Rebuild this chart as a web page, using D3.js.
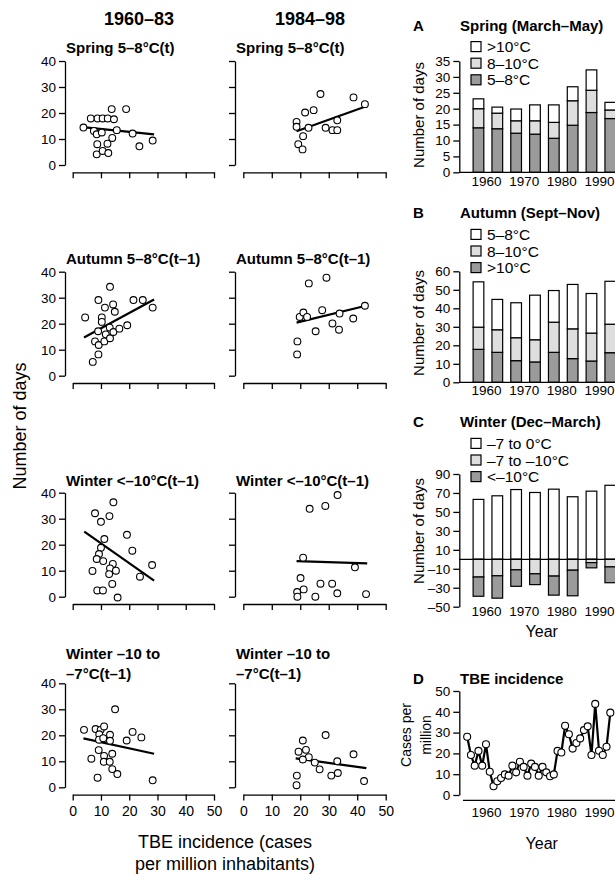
<!DOCTYPE html>
<html>
<head>
<meta charset="utf-8">
<script src="https://cdn.jsdelivr.net/npm/d3@7"></script>
<style>
body { margin: 0; background: #fff; }
text { font-family: "Liberation Sans", Arial, Helvetica, sans-serif; fill: #000; }
.bold { font-weight: bold; }
</style>
</head>
<body>
<svg id="fig" width="615" height="875"></svg>
<script>
// ---- data ----
// scatter panels: [TBE incidence, number of days]
var spring_early = [[3.8,14.4],[6.4,17.9],[7.5,13.1],[8.8,17.9],[8.5,11.8],[8.7,8.0],[8.5,4.1],[10.3,12.5],[10.6,17.9],[10.6,5.4],[12.4,17.9],[12.3,8.2],[12.6,4.6],[13.8,21.5],[14.0,10.4],[14.6,17.6],[15.6,13.4],[18.9,21.5],[21.2,12.1],[23.6,7.2],[28.3,9.4]]
var spring_early_fit = [[4.4,14.5],[28.8,11.8]]
var spring_late = [[18.7,16.6],[18.7,14.7],[19.3,8.0],[20.8,6.0],[21.0,11.1],[21.7,20.2],[22.9,14.3],[24.7,21.1],[27.1,27.3],[28.9,14.3],[31.3,13.4],[33.0,13.4],[33.0,17.2],[38.7,26.0],[42.7,23.4]]
var spring_late_fit = [[18.7,13.0],[42.7,22.4]]

var autumn_early = [[4.4,22.4],[7.1,5.3],[9.1,8.2],[9.1,29.1],[7.9,13.2],[9.2,11.8],[9.0,17.1],[10.3,22.4],[10.3,20.7],[11.4,26.2],[11.2,13.2],[11.7,15.9],[13.1,18.5],[13.2,14.4],[13.2,34.2],[14.4,16.8],[14.3,27.4],[14.9,24.6],[16.5,18.1],[19.3,19.4],[21.5,29.1],[24.8,29.1],[28.3,26.2]]
var autumn_early_fit = [[4.0,14.7],[28.8,29.3]]
var autumn_late = [[18.9,8.2],[19.0,13.2],[19.8,22.6],[21.1,24.3],[22.4,22.6],[23.0,35.5],[25.4,17.1],[27.7,25.2],[29.2,37.7],[31.3,20.1],[33.6,17.7],[33.8,23.9],[38.6,22.0],[42.7,26.9]]
var autumn_late_fit = [[18.7,20.4],[42.7,26.8]]

var wint10_early = [[7.9,32.1],[10.0,28.8],[13.0,31.0],[14.4,36.3],[11.2,22.2],[10.0,18.8],[9.3,16.4],[8.5,14.5],[10.8,13.7],[14.2,12.6],[13.2,10.9],[12.9,8.7],[15.3,10.0],[7.0,9.9],[14.0,4.9],[8.7,2.4],[10.7,2.4],[15.9,-0.3],[19.2,23.8],[21.1,17.7],[23.8,7.7],[28.1,12.2]]
var wint10_early_fit = [[4.1,25.0],[28.8,6.2]]
var wint10_late = [[33.1,39.1],[28.8,34.9],[23.3,33.8],[21.0,15.0],[39.2,11.3],[20.1,7.2],[21.2,2.8],[18.9,1.8],[19.0,0.0],[25.3,0.0],[27.1,5.0],[31.2,5.0],[33.0,1.3],[43.1,1.0]]
var wint10_late_fit = [[18.7,13.7],[43.5,12.8]]

var wint7_early = [[4.0,22.1],[8.1,22.4],[9.9,22.1],[11.1,23.4],[9.4,20.4],[9.3,18.3],[10.8,18.9],[13.2,20.2],[13.2,17.9],[15.0,30.0],[19.1,18.0],[21.2,21.3],[24.3,19.2],[9.2,14.3],[11.1,12.1],[14.0,12.9],[6.6,11.0],[11.0,9.8],[13.1,9.8],[14.0,7.0],[15.8,5.1],[8.8,3.7],[28.3,2.7]]
var wint7_early_fit = [[3.8,18.8],[28.8,12.9]]
var wint7_late = [[20.9,18.0],[22.0,14.4],[19.4,13.7],[23.0,11.6],[20.9,10.7],[25.1,9.5],[26.8,6.9],[28.9,20.1],[30.9,4.5],[33.0,10.0],[33.2,5.5],[38.7,12.7],[42.4,2.4],[18.8,4.5],[18.7,0.8]]
var wint7_late_fit = [[18.4,11.1],[43.2,7.4]]

var scatter_titles = [['Spring 5\u20138\u00b0C(t)'], ['Autumn 5\u20138\u00b0C(t\u20131)'], ['Winter <\u201310\u00b0C(t\u20131)'], ['Winter \u201310 to', '\u20137\u00b0C(t\u20131)']]
var col_titles = ['1960\u201383', '1984\u201398']
var scatter_xticks = [0, 10, 20, 30, 40, 50]
var scatter_yticks = [0, 10, 20, 30, 40]

// five-year periods for the bar panels (centre year)
var periods = ['1956\u201360', '1961\u201365', '1966\u201370', '1971\u201375', '1976\u201380', '1981\u201385', '1986\u201390', '1991\u201395']
var period_mid = [1958, 1963, 1968, 1973, 1978, 1983, 1988, 1993]

var spring_5_8 = [14.0, 13.7, 12.3, 12.0, 10.7, 14.8, 18.8, 16.9]
var spring_8_10 = [6.0, 4.9, 3.9, 4.2, 5.0, 7.7, 7.0, 2.7]
var spring_gt10 = [3.1, 1.9, 3.7, 5.0, 5.5, 4.4, 6.4, 2.4]

var autumn_gt10 = [17.8, 16.2, 11.7, 11.0, 16.2, 12.8, 11.5, 16.0]
var autumn_8_10 = [12.0, 12.2, 12.4, 12.0, 16.3, 16.1, 15.1, 15.4]
var autumn_5_8 = [24.5, 16.4, 18.9, 24.1, 17.1, 24.0, 21.4, 23.2]

var winter_0_7 = [63.2, 67.0, 73.6, 70.5, 74.0, 66.0, 71.9, 78.1]
var winter_7_10 = [18.7, 17.4, 11.1, 15.3, 17.7, 11.5, 3.5, 8.0]
var winter_lt10 = [20.3, 23.6, 17.4, 11.4, 20.1, 27.0, 5.5, 16.7]

var year_ticks = [1960, 1970, 1980, 1990]

// panel D: TBE incidence per year
var tbe_years = [1955,1956,1957,1958,1959,1960,1961,1962,1963,1964,1965,1966,1967,1968,1969,1970,1971,1972,1973,1974,1975,1976,1977,1978,1979,1980,1981,1982,1983,1984,1985,1986,1987,1988,1989,1990,1991,1992,1993]
var tbe_cases = [28.0,19.2,14.1,21.2,14.1,24.4,11.2,4.2,6.6,8.2,9.9,9.3,14.1,10.9,16.0,13.5,9.3,15.1,13.5,9.3,13.5,10.9,9.0,9.9,21.2,20.4,33.3,29.2,22.3,25.0,27.2,31.2,33.0,19.2,43.8,21.3,19.2,23.2,39.6]

// ---- layout ----
var svg = d3.select('#fig')
var dark = '#9b9b9b', light = '#dedede'
var col_x = [[72.7, 214], [243.3, 385.7]]
var col_axis = [65, 235]
var row_top = [61, 271.7, 492.7, 683.3]
var row_h = 104
var title_base = [[53.3], [264.3], [486], [659, 679]]
var minus = function (v) { return String(v).replace('-', '\u2013') }

function styleAxis(sel, size) {
    sel.attr('font-family', null).attr('font-size', size || 13.5)
    sel.selectAll('path, line').attr('stroke', '#000').attr('stroke-width', 1.3)
}

function scatter(pts, fit, row, col) {
    var x = d3.scaleLinear().domain([0, 50]).range(col_x[col])
    var y = d3.scaleLinear().domain([0, 40]).range([row_top[row] + row_h, row_top[row]])
    var g = svg.append('g')

    var ya = g.append('g').attr('transform', 'translate(' + col_axis[col] + ',0)')
        .call(d3.axisLeft(y).tickValues(scatter_yticks).tickSize(6).tickSizeOuter(0)
            .tickFormat(col == 0 ? d3.format('d') : ''))
    styleAxis(ya)
    var xa = g.append('g').attr('transform', 'translate(0,' + (y(0) + 7.3) + ')')
        .call(d3.axisBottom(x).tickValues(scatter_xticks).tickSize(6).tickSizeOuter(0).tickPadding(5)
            .tickFormat(row == 3 ? d3.format('d') : ''))
    styleAxis(xa, 14)

    g.append('path').datum(fit)
        .attr('d', d3.line().x(d => x(d[0])).y(d => y(d[1])))
        .attr('fill', 'none').attr('stroke', '#000').attr('stroke-width', 2.2)

    g.selectAll('circle').data(pts).join('circle')
        .attr('cx', d => x(d[0])).attr('cy', d => y(d[1])).attr('r', 3.4)
        .attr('fill', '#fff').attr('stroke', '#000').attr('stroke-width', 1.1)

    scatter_titles[row].forEach(function (t, i) {
        g.append('text').attr('class', 'bold').attr('x', col_axis[col] + 1).attr('y', title_base[row][i])
            .attr('font-size', 15).text(t)
    })
}

scatter(spring_early, spring_early_fit, 0, 0)
scatter(spring_late, spring_late_fit, 0, 1)
scatter(autumn_early, autumn_early_fit, 1, 0)
scatter(autumn_late, autumn_late_fit, 1, 1)
scatter(wint10_early, wint10_early_fit, 2, 0)
scatter(wint10_late, wint10_late_fit, 2, 1)
scatter(wint7_early, wint7_early_fit, 3, 0)
scatter(wint7_late, wint7_late_fit, 3, 1)

svg.selectAll('.coltitle').data(col_titles).join('text')
    .attr('class', 'bold').attr('x', (d, i) => [104, 275][i]).attr('y', 25)
    .attr('font-size', 18).text(d => d)

svg.append('text').attr('transform', 'translate(26,426) rotate(-90)')
    .attr('text-anchor', 'middle').attr('font-size', 18).text('Number of days')
svg.append('text').attr('x', 225).attr('y', 848).attr('text-anchor', 'middle')
    .attr('font-size', 18).text('TBE incidence (cases')
svg.append('text').attr('x', 225).attr('y', 870).attr('text-anchor', 'middle')
    .attr('font-size', 18).text('per million inhabitants)')

// ---- right-hand bar panels ----
var yr = d3.scaleLinear().domain([1960, 1990]).range([486, 599])
var ax_x = 459.3, bar_w = 10.7, right_edge = 615

function header(letter, title, base) {
    svg.append('text').attr('class', 'bold').attr('x', 413).attr('y', base).attr('font-size', 15).text(letter)
    svg.append('text').attr('class', 'bold').attr('x', 460).attr('y', base).attr('font-size', 15).text(title)
}

function legend(items, top) {
    var lg = svg.append('g').selectAll('g').data(items).join('g')
        .attr('transform', (d, i) => 'translate(471,' + (top + i * 16.6) + ')')
    lg.append('rect').attr('x', 0).attr('y', -5).attr('width', 10).attr('height', 10)
        .attr('fill', d => d[1]).attr('stroke', '#000').attr('stroke-width', 1.2)
    lg.append('text').attr('x', 16).attr('y', 5.5).attr('font-size', 15.5).text(d => d[0])
}

function bars(series, fills, y, offset) {
    var rows = periods.map(function (p, i) {
        var o = { mid: period_mid[i] }
        series.forEach(function (s, k) { o['k' + k] = s[i] })
        return o
    })
    var st = d3.stack().keys(series.map((s, k) => 'k' + k))
    if (offset) st.offset(offset)
    var layers = st(rows)
    svg.append('g').selectAll('g').data(layers).join('g')
        .attr('fill', (d, i) => fills[i])
        .selectAll('rect').data(d => d).join('rect')
        .attr('x', d => yr(d.data.mid) - bar_w / 2)
        .attr('y', d => y(Math.max(d[0], d[1])))
        .attr('width', bar_w)
        .attr('height', d => Math.abs(y(d[0]) - y(d[1])))
        .attr('stroke', '#000').attr('stroke-width', 1.2)
}

function yAxis(y, ticks, labelY) {
    var a = svg.append('g').attr('transform', 'translate(' + ax_x + ',0)')
        .call(d3.axisLeft(y).tickValues(ticks).tickSize(6).tickSizeOuter(0).tickFormat(minus))
    styleAxis(a)
}

function yearAxis(yPos, pad) {
    var a = svg.append('g').attr('transform', 'translate(0,' + yPos + ')')
        .call(d3.axisBottom(yr).tickValues(year_ticks).tickSize(0).tickPadding(pad).tickFormat(d3.format('d')))
    a.select('.domain').remove()
    styleAxis(a)
}

function baseLine(yPos) {
    svg.append('line').attr('x1', ax_x).attr('x2', right_edge).attr('y1', yPos).attr('y2', yPos)
        .attr('stroke', '#000').attr('stroke-width', 1.3)
}

function sideLabel(lines, x0, cy, size) {
    lines.forEach(function (t, i) {
        svg.append('text').attr('transform', 'translate(' + (x0 + i * 20) + ',' + cy + ') rotate(-90)')
            .attr('text-anchor', 'middle').attr('font-size', size).text(t)
    })
}

// A
var yA = d3.scaleLinear().domain([0, 35]).range([172.3, 61])
header('A', 'Spring (March\u2013May)', 30.7)
bars([spring_5_8, spring_8_10, spring_gt10], [dark, light, '#fff'], yA)
yAxis(yA, [0, 5, 10, 15, 20, 25, 30, 35])
baseLine(yA(0))
yearAxis(yA(0), 3.8)
legend([['>10\u00b0C', '#fff'], ['8\u201310\u00b0C', light], ['5\u20138\u00b0C', dark]], 46.6)
sideLabel(['Number of days'], 424, 115, 15)

// B
var yB = d3.scaleLinear().domain([0, 60]).range([382.3, 271.3])
header('B', 'Autumn (Sept\u2013Nov)', 217.7)
bars([autumn_gt10, autumn_8_10, autumn_5_8], [dark, light, '#fff'], yB)
yAxis(yB, [0, 10, 20, 30, 40, 50, 60])
baseLine(yB(0))
yearAxis(yB(0), 3.1)
legend([['5\u20138\u00b0C', '#fff'], ['8\u201310\u00b0C', light], ['>10\u00b0C', dark]], 234.4)
sideLabel(['Number of days'], 424, 323, 15)

// C
var yC = d3.scaleLinear().domain([-50, 90]).range([606.7, 474])
header('C', 'Winter (Dec\u2013March)', 427.3)
bars([winter_0_7, winter_7_10.map(v => -v), winter_lt10.map(v => -v)], ['#fff', light, dark], yC, d3.stackOffsetDiverging)
yAxis(yC, [-50, -30, -10, 10, 30, 50, 70, 90])
baseLine(yC(0))
yearAxis(yC(-50), 0)
legend([['\u20137 to 0\u00b0C', '#fff'], ['\u20137 to \u201310\u00b0C', light], ['<\u201310\u00b0C', dark]], 443.4)
sideLabel(['Number of days'], 424, 531, 15)
svg.append('text').attr('x', 541.7).attr('y', 637).attr('text-anchor', 'middle').attr('font-size', 16).text('Year')

// D
var yD = d3.scaleLinear().domain([0, 50]).range([795, 691])
header('D', 'TBE incidence', 684)
yAxis(yD, [0, 10, 20, 30, 40, 50])
svg.append('line').attr('x1', 463).attr('x2', right_edge).attr('y1', 800.3).attr('y2', 800.3)
    .attr('stroke', '#000').attr('stroke-width', 1.3)
yearAxis(800.3, 6.8)
var pts = tbe_years.map((yv, i) => [yv, tbe_cases[i]])
svg.append('path').datum(pts)
    .attr('d', d3.line().x(d => yr(d[0])).y(d => yD(d[1])))
    .attr('fill', 'none').attr('stroke', '#000').attr('stroke-width', 2.2)
svg.append('g').selectAll('circle').data(pts).join('circle')
    .attr('cx', d => yr(d[0])).attr('cy', d => yD(d[1])).attr('r', 3.5)
    .attr('fill', '#fff').attr('stroke', '#000').attr('stroke-width', 1.1)
sideLabel(['Cases per', 'million'], 411, 735, 14)
svg.append('text').attr('x', 541.7).attr('y', 849).attr('text-anchor', 'middle').attr('font-size', 16).text('Year')
</script>
</body>
</html>
